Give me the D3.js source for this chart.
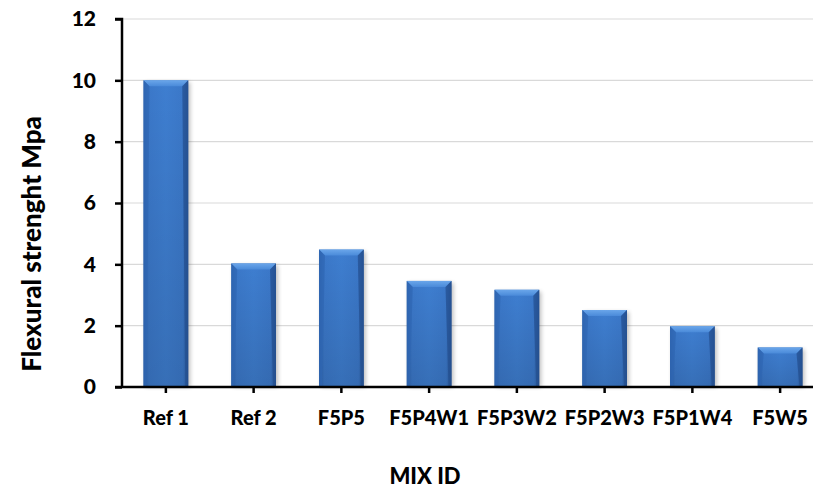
<!DOCTYPE html>
<html>
<head>
<meta charset="utf-8">
<script src="https://cdn.jsdelivr.net/npm/d3@7"></script>
<style>
  html, body { margin: 0; padding: 0; background: #fff; }
  svg { display: block; font-family: Lato, "Open Sans", sans-serif; }
</style>
</head>
<body>
<svg id="chart" width="813" height="488"></svg>
<script>
const categories = ["Ref 1", "Ref 2", "F5P5", "F5P4W1", "F5P3W2", "F5P2W3", "F5P1W4", "F5W5"];
const values = [10.0, 4.03, 4.48, 3.46, 3.17, 2.51, 1.98, 1.29];
const yTicks = [0, 2, 4, 6, 8, 10, 12];
const yTitle = "Flexural strenght Mpa";
const xTitle = "MIX ID";

const svg = d3.select("#chart");
const W = 813, H = 488;
const mLeft = 122, mTop = 19, mBottom = 387, mRight = 824;

const x = d3.scaleBand().domain(categories).range([mLeft, mRight]).paddingInner(0.49).paddingOuter(0.245);
const y = d3.scaleLinear().domain([0, 12]).range([mBottom, mTop]);

const defs = svg.append("defs");
const g1 = defs.append("linearGradient").attr("id", "barGrad").attr("x1", 0).attr("y1", 0).attr("x2", 1).attr("y2", 0);
g1.append("stop").attr("offset", "0%").attr("stop-color", "#2f64ae");
g1.append("stop").attr("offset", "12%").attr("stop-color", "#3b78c9");
g1.append("stop").attr("offset", "50%").attr("stop-color", "#3e7ed0");
g1.append("stop").attr("offset", "88%").attr("stop-color", "#3b78c9");
g1.append("stop").attr("offset", "100%").attr("stop-color", "#2a5a9e");
const g2 = defs.append("linearGradient").attr("id", "topGrad").attr("x1", 0).attr("y1", 0).attr("x2", 0).attr("y2", 1);
g2.append("stop").attr("offset", "0%").attr("stop-color", "#6aa6ea");
g2.append("stop").attr("offset", "100%").attr("stop-color", "#4a8ad9");
const g3 = defs.append("linearGradient").attr("id", "vShade").attr("x1", 0).attr("y1", 0).attr("x2", 0).attr("y2", 1);
g3.append("stop").attr("offset", "0%").attr("stop-color", "#000").attr("stop-opacity", 0);
g3.append("stop").attr("offset", "100%").attr("stop-color", "#000").attr("stop-opacity", 0.12);
const f = defs.append("filter").attr("id", "shadow").attr("x", "-20%").attr("y", "-20%").attr("width", "150%").attr("height", "150%");
f.append("feGaussianBlur").attr("stdDeviation", 2);

// gridlines
svg.append("g").selectAll("line").data(yTicks.filter(d => d > 0)).join("line")
  .attr("x1", mLeft).attr("x2", W)
  .attr("y1", d => y(d)).attr("y2", d => y(d))
  .attr("stroke", "#d9d9d9").attr("stroke-width", 1.2);

// bars
const bars = svg.append("g").selectAll("g").data(categories.map((c, i) => ({c, v: values[i]}))).join("g");
bars.append("rect")
  .attr("x", d => x(d.c) + 2).attr("y", d => y(d.v) + 2)
  .attr("width", x.bandwidth()).attr("height", d => mBottom - y(d.v) - 2)
  .attr("fill", "#000").attr("opacity", 0.25).attr("filter", "url(#shadow)");
bars.append("rect")
  .attr("x", d => x(d.c)).attr("y", d => y(d.v))
  .attr("width", x.bandwidth()).attr("height", d => mBottom - y(d.v))
  .attr("fill", "url(#barGrad)");
bars.append("rect")
  .attr("x", d => x(d.c)).attr("y", d => y(d.v))
  .attr("width", x.bandwidth()).attr("height", d => mBottom - y(d.v))
  .attr("fill", "url(#vShade)");
const bev = 6;
bars.append("path")
  .attr("d", d => {
    const x0 = x(d.c), x1 = x0 + x.bandwidth(), y0 = y(d.v);
    return `M${x0},${y0}L${x1},${y0}L${x1 - bev},${y0 + bev}L${x0 + bev},${y0 + bev}Z`;
  })
  .attr("fill", "url(#topGrad)");
bars.append("path")
  .attr("d", d => {
    const x0 = x(d.c), y0 = y(d.v);
    return `M${x0},${y0}L${x0 + bev},${y0 + bev}L${x0 + bev - 3},${mBottom}L${x0},${mBottom}Z`;
  })
  .attr("fill", "#2f66b3").attr("opacity", 0.7);
bars.append("path")
  .attr("d", d => {
    const x1 = x(d.c) + x.bandwidth(), y0 = y(d.v);
    return `M${x1},${y0}L${x1 - bev},${y0 + bev}L${x1 - bev + 3},${mBottom}L${x1},${mBottom}Z`;
  })
  .attr("fill", "#244f8e").attr("opacity", 0.7);

// y axis
const yAxis = svg.append("g").attr("transform", `translate(${mLeft},0)`)
  .call(d3.axisLeft(y).tickValues(yTicks).tickSize(7).tickPadding(19).tickFormat(d3.format("d")));
yAxis.select(".domain").attr("stroke", "#000").attr("stroke-width", 2.5).attr("d", `M-7,${mTop}H0V${mBottom}`);
yAxis.selectAll(".tick line").attr("stroke", "#000").attr("stroke-width", 2.5);
yAxis.selectAll(".tick text").attr("font-size", 21).attr("font-weight", 900).attr("fill", "#000").attr("font-family", "Lato, sans-serif");

// x axis
const xAxis = svg.append("g").attr("transform", `translate(0,${mBottom})`)
  .call(d3.axisBottom(x).tickSize(6).tickPadding(18));
xAxis.select(".domain").attr("stroke", "#000").attr("stroke-width", 2.5).attr("d", `M${mLeft - 7},0H${mRight}`);
xAxis.selectAll(".tick line").attr("stroke", "#000").attr("stroke-width", 2.5);
xAxis.selectAll(".tick text").attr("font-size", 20).attr("font-weight", 900).attr("fill", "#000").attr("font-family", "Lato, sans-serif");

// titles
svg.append("text").attr("transform", "translate(41,244) rotate(-90)")
  .attr("text-anchor", "middle").attr("font-size", 26).attr("font-weight", 900).text(yTitle);
svg.append("text").attr("x", 425).attr("y", 484)
  .attr("text-anchor", "middle").attr("font-size", 22).attr("font-weight", 900).text(xTitle);
</script>
</body>
</html>
